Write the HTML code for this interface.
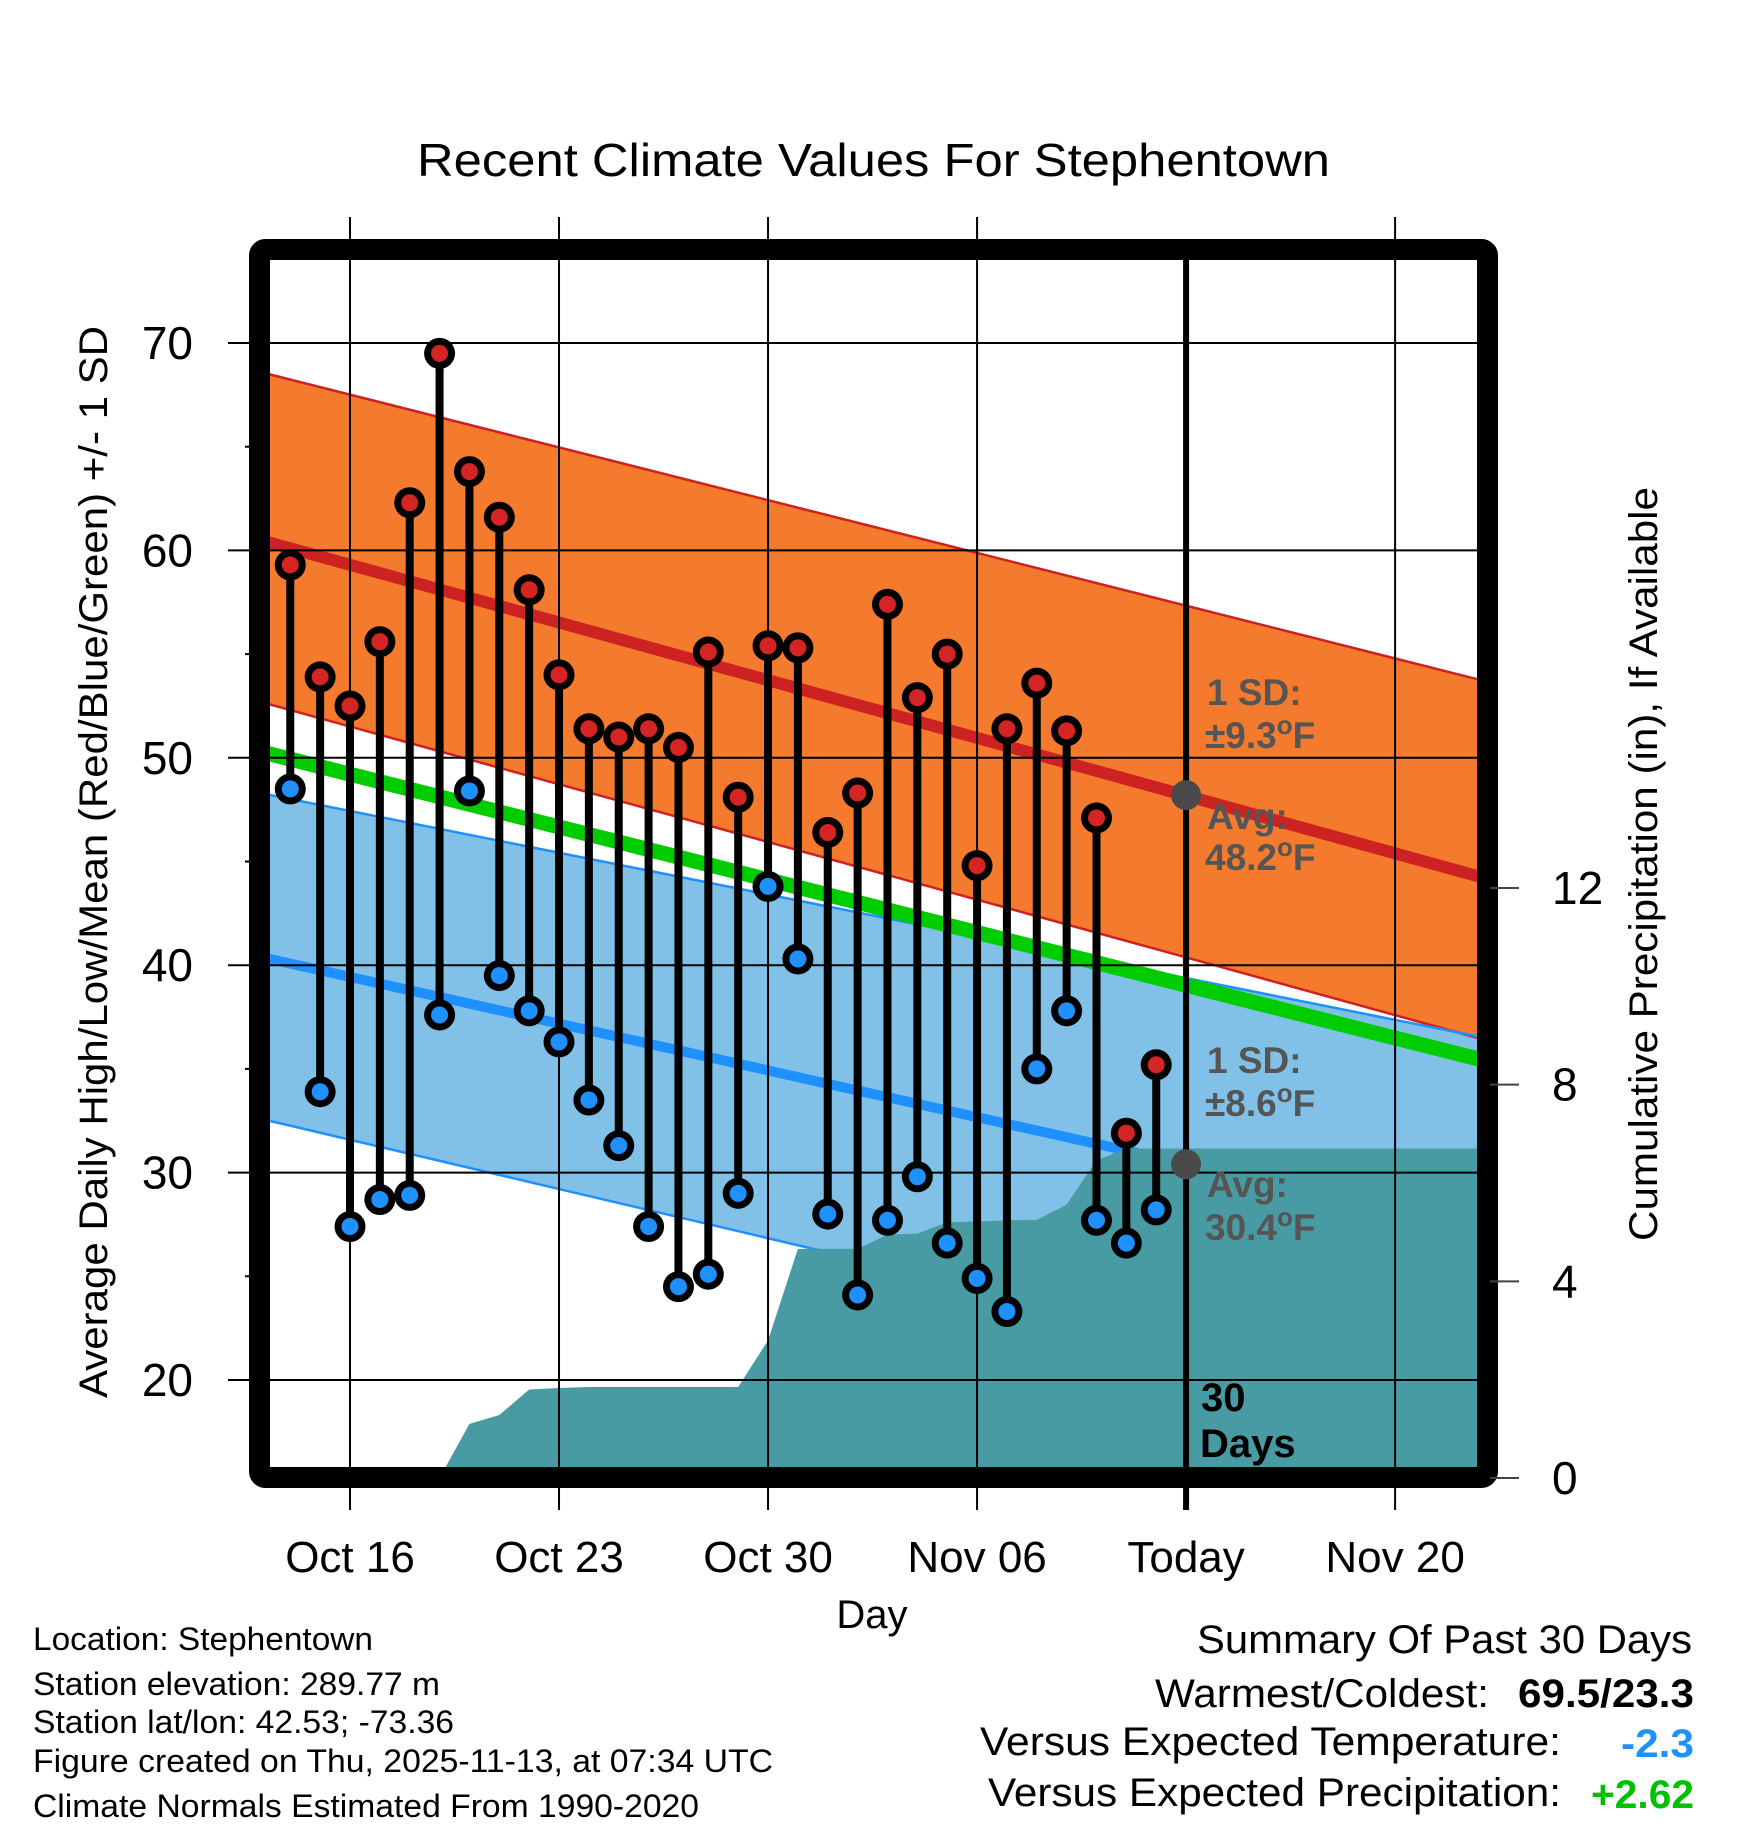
<!DOCTYPE html>
<html><head><meta charset="utf-8"><style>
html,body{margin:0;padding:0;background:#fff;}
svg{display:block;font-family:"Liberation Sans",Arial,sans-serif;}
</style></head><body>
<svg id="chart" width="1748" height="1828" viewBox="0 0 1748 1828" xmlns="http://www.w3.org/2000/svg">
<defs><clipPath id="plotclip"><rect x="270" y="260" width="1208" height="1208"/></clipPath></defs>
<text x="417" y="176" font-size="46" textLength="913" lengthAdjust="spacingAndGlyphs">Recent Climate Values For Stephentown</text>
<g id="fills" clip-path="url(#plotclip)"></g>
<g id="grid"></g>
<g id="marks"></g>
<g id="annot" font-weight="bold" font-size="37" fill="#555">
<text x="1207" y="705">1 SD:</text>
<text x="1205" y="748">±9.3<tspan dy="-14" font-size="26">o</tspan><tspan dy="14">F</tspan></text>
<text x="1207" y="829">Avg:</text>
<text x="1205" y="870">48.2<tspan dy="-14" font-size="26">o</tspan><tspan dy="14">F</tspan></text>
<text x="1207" y="1073">1 SD:</text>
<text x="1205" y="1116">±8.6<tspan dy="-14" font-size="26">o</tspan><tspan dy="14">F</tspan></text>
<text x="1207" y="1197">Avg:</text>
<text x="1205" y="1240">30.4<tspan dy="-14" font-size="26">o</tspan><tspan dy="14">F</tspan></text>
<text x="1201" y="1411" fill="#000" font-size="40">30</text>
<text x="1200" y="1457" fill="#000" font-size="40">Days</text>
</g>
<rect x="259.5" y="249.5" width="1228" height="1228" rx="6" fill="none" stroke="#000" stroke-width="21"/>
<g id="axes"></g>
<text transform="translate(107,862) rotate(-90)" text-anchor="middle" font-size="40" textLength="1072" lengthAdjust="spacingAndGlyphs">Average Daily High/Low/Mean (Red/Blue/Green) +/- 1 SD</text>
<text transform="translate(1657,864) rotate(-90)" text-anchor="middle" font-size="40" textLength="754" lengthAdjust="spacingAndGlyphs">Cumulative Precipitation (in), If Available</text>
<text x="872" y="1628" text-anchor="middle" font-size="40">Day</text>
<g font-size="32" lengthAdjust="spacingAndGlyphs">
<text x="33" y="1650" textLength="340" lengthAdjust="spacingAndGlyphs">Location: Stephentown</text>
<text x="33" y="1695" textLength="407" lengthAdjust="spacingAndGlyphs">Station elevation: 289.77 m</text>
<text x="33" y="1733" textLength="421" lengthAdjust="spacingAndGlyphs">Station lat/lon: 42.53; -73.36</text>
<text x="33" y="1772" textLength="740" lengthAdjust="spacingAndGlyphs">Figure created on Thu, 2025-11-13, at 07:34 UTC</text>
<text x="33" y="1817" textLength="666" lengthAdjust="spacingAndGlyphs">Climate Normals Estimated From 1990-2020</text>
</g>
<g font-size="40">
<text x="1197" y="1653" textLength="495" lengthAdjust="spacingAndGlyphs">Summary Of Past 30 Days</text>
<text x="1155" y="1707" textLength="334" lengthAdjust="spacingAndGlyphs">Warmest/Coldest:</text>
<text x="1518" y="1707" font-weight="bold" textLength="176" lengthAdjust="spacingAndGlyphs">69.5/23.3</text>
<text x="980" y="1755" textLength="581" lengthAdjust="spacingAndGlyphs">Versus Expected Temperature:</text>
<text x="1621" y="1757" font-weight="bold" fill="#1e90ff" textLength="73" lengthAdjust="spacingAndGlyphs">-2.3</text>
<text x="988" y="1806" textLength="573" lengthAdjust="spacingAndGlyphs">Versus Expected Precipitation:</text>
<text x="1591" y="1808" font-weight="bold" fill="#00c000" textLength="103" lengthAdjust="spacingAndGlyphs">+2.62</text>
</g>
</svg>
<script>
// Data: days Oct14..Nov12
const highs = [59.3,53.9,52.5,55.6,62.3,69.5,63.8,61.6,58.1,54.0,51.4,51.0,51.4,50.5,55.1,48.1,55.4,55.3,46.4,48.3,57.4,52.9,55.0,44.8,51.4,53.6,51.3,47.1,31.9,35.2];
const lows  = [48.5,33.9,27.4,28.7,28.9,37.6,48.4,39.5,37.8,36.3,33.5,31.3,27.4,24.5,25.1,29.0,43.8,40.3,28.0,24.1,27.7,29.8,26.6,24.9,23.3,35.0,37.8,27.7,26.6,28.2];
const precip = [0,0,0,0,0,0,1.1,1.28,1.8,1.83,1.85,1.85,1.85,1.85,1.85,1.85,2.8,4.66,4.66,4.66,4.95,4.97,5.2,5.22,5.24,5.25,5.56,6.46,6.7,6.7];
// normals at Oct13 and Nov23
const normHighMean = [60.5,44.2];
const normHighUpper = [68.6,53.7];
const normHighLower = [52.7,36.4];
const normLowMean = [40.4,27.2];
const normLowUpper = [48.3,36.5];
const normLowLower = [32.6,18.7];
const normMean = [50.3,35.4];
const todayAvg = [48.2,30.4];
const yTicks = [20,30,40,50,60,70];
const yMinor = [25,35,45,55,65];
const pTicks = [0,4,8,12];
const xTickLabels = ["Oct 16","Oct 23","Oct 30","Nov 06","Today","Nov 20"];
const xTickDays = [3,10,17,24,31,38];

const NS="http://www.w3.org/2000/svg";
const X = d => 350 + (d-3)*29.86;
const Y = v => 343 + (70-v)*20.74;
const P = p => 1478 - p*49.17;
const D0=0, D1=41;
function mk(tag, attrs, parent){const e=document.createElementNS(NS,tag);for(const k in attrs)e.setAttribute(k,attrs[k]);parent.appendChild(e);return e;}
const fills=document.getElementById('fills'), grid=document.getElementById('grid'), marks=document.getElementById('marks'), axes=document.getElementById('axes');
function band(up,lo){return `${X(D0)},${Y(up[0])} ${X(D1)},${Y(up[1])} ${X(D1)},${Y(lo[1])} ${X(D0)},${Y(lo[0])}`;}
let e;
e=mk('polygon',{points:band(normHighUpper,normHighLower),fill:'#f47a2d'},fills);


e=mk('polygon',{points:band(normLowUpper,normLowLower),fill:'#82c1e7'},fills);


function line(arr,color,w,name){const l=mk('line',{x1:X(D0),y1:Y(arr[0]),x2:X(D1),y2:Y(arr[1]),stroke:color,'stroke-width':w},fills);}
line(normHighUpper,'#d02020',2.5,'high-sd-upper-edge');
line(normHighLower,'#d02020',2.5,'high-sd-lower-edge');
line(normLowUpper,'#1e90ff',2.5,'low-sd-upper-edge');
line(normLowLower,'#1e90ff',2.5,'low-sd-lower-edge');
line(normMean,'#00cc00',15,'normal-mean-line');
line(normHighMean,'#cc2222',12,'normal-high-line');
line(normLowMean,'#1e90ff',10,'normal-low-line');
let pts=[`${X(1)},${P(0)+20}`];
precip.forEach((p,i)=>pts.push(`${X(i+1)},${P(p)}`));
pts.push(`${X(D1)},${P(precip[precip.length-1])}`);
pts.push(`${X(D1)},${P(0)+20}`);
e=mk('polygon',{points:pts.join(' '),fill:'#489ba3'},fills);


yTicks.forEach(v=>{const g=mk('line',{x1:228,x2:1478,y1:Y(v),y2:Y(v),stroke:'#000','stroke-width':2},grid);
 const t=mk('text',{x:193,y:Y(v)+16,'text-anchor':'end','font-size':46},axes);t.textContent=v;});
yMinor.forEach(v=>{const g=mk('line',{x1:245,x2:260,y1:Y(v),y2:Y(v),stroke:'#000','stroke-width':2},grid);});
xTickDays.forEach((d,i)=>{if(i!==4){const g=mk('line',{x1:X(d),x2:X(d),y1:217,y2:1510,stroke:'#000','stroke-width':2},grid);}
 const t=mk('text',{x:X(d),y:1572,'text-anchor':'middle','font-size':44},axes);t.textContent=xTickLabels[i];});
e=mk('line',{x1:X(31),x2:X(31),y1:250,y2:1510,stroke:'#000','stroke-width':6},grid);


pTicks.forEach(p=>{const g=mk('line',{x1:1490,x2:1519,y1:P(p),y2:P(p),stroke:'#444','stroke-width':2},axes);
 const t=mk('text',{x:1552,y:P(p)+16,'font-size':46},axes);t.textContent=p;});
highs.forEach((h,i)=>{const x=X(i+1);const s=mk('line',{x1:x,x2:x,y1:Y(h),y2:Y(lows[i]),stroke:'#000','stroke-width':8},marks);});
function dot(x,y,color,name){const o=mk('circle',{cx:x,cy:y,r:15.5,fill:'#000'},marks);
 const c=mk('circle',{cx:x,cy:y,r:8.5,fill:color},marks);}
highs.forEach((h,i)=>dot(X(i+1),Y(h),'#d42424','high-point'));
lows.forEach((l,i)=>dot(X(i+1),Y(l),'#1e90ff','low-point'));
todayAvg.forEach(v=>{const c=mk('circle',{cx:X(31),cy:Y(v),r:15,fill:'#4a4a4a'},marks);});
</script>
</body></html>
